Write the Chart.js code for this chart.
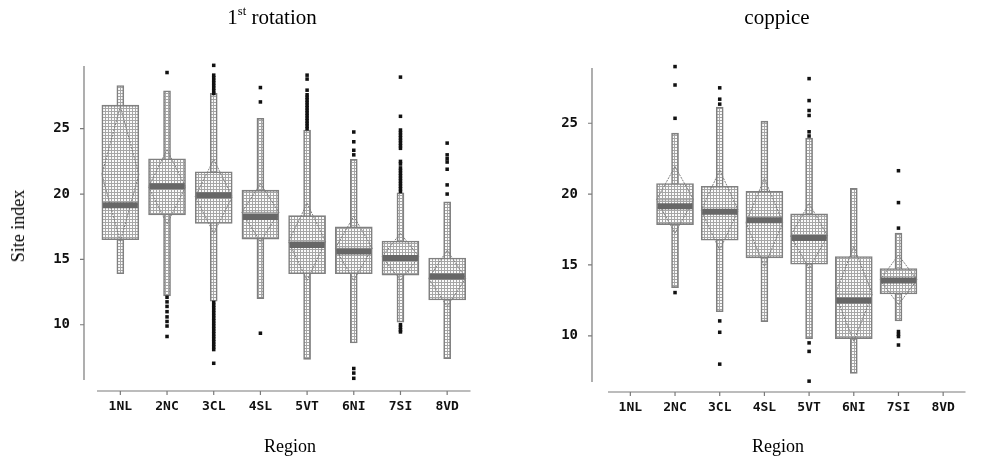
<!DOCTYPE html>
<html>
<head>
<meta charset="utf-8">
<script src="https://cdn.jsdelivr.net/npm/chart.js@4.4.0/dist/chart.umd.min.js"></script>
<style>
  html, body { margin: 0; padding: 0; background: #fff; }
  #wrap { position: relative; width: 989px; height: 464px; overflow: hidden;
          font-family: "Liberation Serif", "Times New Roman", serif; color: #000; }
  canvas { position: absolute; top: 0; }
  #rot { left: 0; }
  #cop { left: 494px; }
  .lbl { position: absolute; white-space: nowrap; transform: translateX(-50%); }
  .title { top: 5px; font-size: 21px; line-height: 24px; }
  .axis { top: 436px; font-size: 18px; line-height: 20px; }
  sup { font-size: 0.6em; vertical-align: 0.7em; line-height: 0; }
</style>
</head>
<body>
<div id="wrap">
  <canvas id="rot" width="494" height="464"></canvas>
  <canvas id="cop" width="495" height="464"></canvas>
  <div class="lbl title" style="left:272px">1<sup>st</sup> rotation</div>
  <div class="lbl title" style="left:777px">coppice</div>
  <div class="lbl axis" style="left:290px">Region</div>
  <div class="lbl axis" style="left:778px">Region</div>
  <div class="lbl" style="left:18px; top:216px; font-size:18px; line-height:20px; transform: translateX(-50%) rotate(-90deg);">Site index</div>
</div>
<script>
const regions = ["1NL", "2NC", "3CL", "4SL", "5VT", "6NI", "7SI", "8VD"]

// 1st rotation
const rotWhiskerLo = [13.9, 12.2, 11.8, 12.0, 7.35, 8.6, 10.2, 7.4]
const rotWhiskerHi = [28.3, 27.9, 27.7, 25.8, 24.9, 22.65, 20.1, 19.4]
const rotQ1 = [16.5, 18.4, 17.75, 16.55, 13.9, 13.9, 13.8, 11.9]
const rotQ3 = [26.8, 22.7, 21.7, 20.3, 18.35, 17.5, 16.4, 15.1]
const rotMedian = [19.15, 20.6, 19.9, 18.25, 16.1, 15.6, 15.1, 13.7]
const rotMean = [21.5, 20.55, 19.8, 18.6, 16.35, 15.85, 15.2, 13.55]
const rotCiLo = [16.35, 17.7, 17.0, 16.35, 13.4, 13.4, 13.4, 11.4]
const rotCiHi = [26.7, 23.4, 22.65, 20.8, 19.3, 18.3, 17.0, 15.7]
const rotOutliers = [
  [],
  [29.3, 12.1, 11.75, 11.4, 11.0, 10.6, 10.25, 9.9, 9.1],
  [29.85, 29.1, 28.9, 28.7, 28.5, 28.3, 28.1, 27.9, 27.7,
   11.7, 11.5, 11.3, 11.1, 10.9, 10.7, 10.5, 10.3, 10.1, 9.9, 9.7, 9.5, 9.3, 9.1, 8.9, 8.7, 8.5, 8.3, 8.1, 7.05],
  [28.15, 27.05, 9.35],
  [29.1, 28.8, 27.95, 27.6, 27.4, 27.2, 27.0, 26.8, 26.6, 26.4, 26.2, 26.0, 25.8, 25.6, 25.4, 25.2, 25.0],
  [24.75, 24.0, 23.35, 23.0, 6.65, 6.3, 5.9],
  [28.95, 25.95, 24.9, 24.7, 24.5, 24.3, 24.1, 23.9, 23.7, 23.5, 22.5, 22.3,
   22.0, 21.8, 21.6, 21.4, 21.2, 21.0, 20.8, 20.6, 20.4, 20.2, 10.0, 9.8, 9.6, 9.45],
  [23.9, 23.0, 22.7, 22.45, 21.9, 20.7, 20.0]
]

// coppice
const copWhiskerLo = [null, 13.4, 11.7, 11.0, 9.8, 7.35, 11.05, null]
const copWhiskerHi = [null, 24.3, 26.15, 25.15, 23.95, 20.4, 17.25, null]
const copQ1 = [null, 17.85, 16.75, 15.5, 15.05, 9.8, 12.95, null]
const copQ3 = [null, 20.75, 20.55, 20.2, 18.6, 15.6, 14.75, null]
const copMedian = [null, 19.15, 18.75, 18.15, 16.9, 12.5, 13.9, null]
const copMean = [null, 19.6, 18.85, 18.0, 17.05, 12.95, 13.95, null]
const copCiLo = [null, 17.25, 16.05, 14.9, 14.75, 9.6, 12.2, null]
const copCiHi = [null, 21.95, 21.7, 21.1, 19.35, 16.3, 15.7, null]
const copOutliers = [
  [],
  [29.0, 27.7, 25.35, 13.05],
  [27.5, 26.7, 26.35, 11.05, 10.25, 8.0],
  [],
  [28.15, 26.6, 25.9, 25.55, 24.4, 24.1, 9.5, 8.9, 6.8],
  [],
  [21.65, 19.4, 17.6, 10.3, 10.1, 9.95, 9.35],
  []
]

const BOX_W = 37
const WHISKER_W = 7
const GREY = "#808080"
const tickFont = { family: "'DejaVu Sans Mono', monospace", weight: "bold" }

function dotPattern(ctx) {
  const tile = document.createElement("canvas")
  tile.width = 3
  tile.height = 3
  const g = tile.getContext("2d")
  g.fillStyle = "#fbfbfb"
  g.fillRect(0, 0, 3, 3)
  g.fillStyle = "#a6a6a6"
  g.fillRect(0, 0, 3, 1)
  g.fillRect(0, 0, 1, 3)
  return ctx.createPattern(tile, "repeat")
}

function pairs(lo, hi) {
  return lo.map((v, i) => (v == null ? null : [v, hi[i]]))
}

function points(values) {
  return values
    .map((v, i) => (v == null ? null : { x: regions[i], y: v }))
    .filter(Boolean)
}

function makeChart(id, s) {
  const canvas = document.getElementById(id)
  const ctx = canvas.getContext("2d")
  const pattern = dotPattern(ctx)

  const outlierPts = []
  s.outliers.forEach((list, i) => list.forEach((v) => outlierPts.push({ x: regions[i], y: v })))

  // diamonds drawn right after the boxes, under medians and outliers
  const diamonds = {
    id: "diamonds",
    afterDatasetDraw(chart, args) {
      if (args.index !== 3) return
      const { x, y } = chart.scales
      const c = chart.ctx
      c.save()
      c.strokeStyle = "#7e7e7e"
      c.lineWidth = 1
      c.setLineDash([2, 1])
      s.mean.forEach((m, i) => {
        if (m == null) return
        const cx = x.getPixelForValue(i)
        const half = BOX_W / 2
        const ym = y.getPixelForValue(m)
        c.beginPath()
        c.moveTo(cx, y.getPixelForValue(s.ciHi[i]))
        c.lineTo(cx + half, ym)
        c.lineTo(cx, y.getPixelForValue(s.ciLo[i]))
        c.lineTo(cx - half, ym)
        c.closePath()
        c.stroke()
      })
      c.restore()
    },
  }

  // detached axis lines, as in the original
  const axes = {
    id: "axes",
    afterDraw(chart) {
      const { ctx: c, chartArea: a, scales: { x, y } } = chart
      const lx = a.left - s.yGap
      const by = a.bottom + s.xGap
      c.save()
      c.strokeStyle = "#7a7a7a"
      c.lineWidth = 1.2
      c.beginPath()
      c.moveTo(lx, a.top)
      c.lineTo(lx, a.bottom)
      y.ticks.forEach((t) => {
        const py = y.getPixelForValue(t.value)
        c.moveTo(lx - 4, py)
        c.lineTo(lx, py)
      })
      c.moveTo(a.left, by)
      c.lineTo(a.right, by)
      regions.forEach((r, i) => {
        const px = x.getPixelForValue(i)
        c.moveTo(px, by)
        c.lineTo(px, by + 4)
      })
      c.stroke()
      c.restore()
    },
  }

  return new Chart(ctx, {
    type: "bar",
    data: {
      labels: regions,
      datasets: [
        {
          type: "scatter",
          data: outlierPts,
          pointStyle: "rect",
          pointRadius: 2.5,
          pointBackgroundColor: "#111",
          pointBorderWidth: 0,
          clip: false,
        },
        {
          type: "scatter",
          data: points(s.median),
          pointStyle: "line",
          pointRadius: BOX_W / 2 - 1,
          pointBorderWidth: 6,
          pointBorderColor: "#676767",
        },
        {
          type: "scatter",
          data: points(s.mean),
          pointStyle: "line",
          pointRadius: BOX_W / 2 - 1,
          pointBorderWidth: 1,
          pointBorderColor: "#999",
        },
        {
          data: pairs(s.q1, s.q3),
          backgroundColor: pattern,
          borderColor: GREY,
          borderWidth: 1.6,
          borderSkipped: false,
          barThickness: BOX_W,
          grouped: false,
        },
        {
          data: pairs(s.whiskerLo, s.whiskerHi),
          backgroundColor: pattern,
          borderColor: GREY,
          borderWidth: 1.6,
          borderSkipped: false,
          barThickness: WHISKER_W,
          grouped: false,
        },
      ],
    },
    options: {
      responsive: false,
      animation: false,
      events: [],
      layout: { padding: s.padding },
      plugins: {
        legend: { display: false },
        tooltip: { enabled: false },
      },
      scales: {
        x: {
          grid: { display: false },
          border: { display: false },
          ticks: { font: { ...tickFont, size: 13 }, color: "#111", padding: s.xPad },
          afterFit: (scale) => { scale.height = s.xHeight },
        },
        y: {
          min: s.min,
          max: s.max,
          grid: { display: false },
          border: { display: false },
          ticks: {
            stepSize: 5,
            includeBounds: false,
            font: { ...tickFont, size: 14 },
            color: "#111",
            padding: s.yPad,
          },
          afterFit: (scale) => { scale.width = s.yWidth },
        },
      },
    },
    plugins: [diamonds, axes],
  })
}

makeChart("rot", {
  whiskerLo: rotWhiskerLo, whiskerHi: rotWhiskerHi, q1: rotQ1, q3: rotQ3,
  median: rotMedian, mean: rotMean, ciLo: rotCiLo, ciHi: rotCiHi, outliers: rotOutliers,
  min: 5.77, max: 29.8,
  padding: { top: 66, right: 14, left: 0, bottom: 0 },
  yWidth: 97, xHeight: 84, yPad: 19, xPad: 11, yGap: 13, xGap: 11,
})

makeChart("cop", {
  whiskerLo: copWhiskerLo, whiskerHi: copWhiskerHi, q1: copQ1, q3: copQ3,
  median: copMedian, mean: copMean, ciLo: copCiLo, ciHi: copCiHi, outliers: copOutliers,
  min: 6.74, max: 28.9,
  padding: { top: 68, right: 0, left: 0, bottom: 0 },
  yWidth: 114, xHeight: 82, yPad: 22, xPad: 10, yGap: 16, xGap: 10,
})
</script>
</body>
</html>
